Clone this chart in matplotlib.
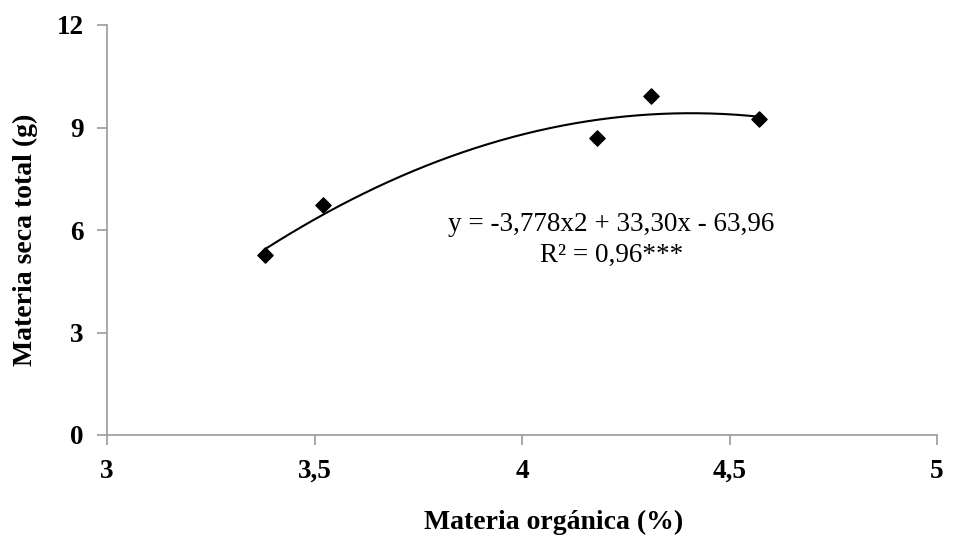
import numpy as np
import matplotlib
matplotlib.use("Agg")
import matplotlib.pyplot as plt

plt.rcParams["font.family"] = ["Liberation Serif", "DejaVu Serif"]

# Observed points
mo = [3.38, 3.52, 4.18, 4.31, 4.57]
mst = [5.28, 6.72, 8.70, 9.92, 9.25]

# Fitted quadratic (as printed on the chart)
coef = [-3.778, 33.30, -63.96]
eq_text = "y = -3,778x2 + 33,30x - 63,96\nR² = 0,96***"

xticks = [3, 3.5, 4, 4.5, 5]
xtick_labels = ["3", "3,5", "4", "4,5", "5"]
yticks = [0, 3, 6, 9, 12]

fig = plt.figure(figsize=(9.56, 5.43), dpi=100)
ax = fig.add_axes([107 / 956, 1 - 435 / 543, (937 - 107) / 956, (435 - 25) / 543])

xs = np.linspace(min(mo), max(mo), 200)
ax.plot(xs, np.polyval(coef, xs), color="black", lw=1.5)
ax.scatter(mo, mst, marker="D", s=60, color="black", zorder=3)

ax.text(4.215, 5.72, eq_text, ha="center", va="center", fontsize=19.5,
        linespacing=1.3)

ax.set_xlim(3, 5)
ax.set_ylim(0, 12)
ax.set_xticks(xticks)
ax.set_xticklabels(xtick_labels)
ax.set_yticks(yticks)

for s in ["top", "right"]:
    ax.spines[s].set_visible(False)
for s in ["left", "bottom"]:
    ax.spines[s].set_color("#999999")
    ax.spines[s].set_linewidth(1.2)
ax.tick_params(direction="out", length=7, width=1.2, color="#999999",
               labelsize=19.5, pad=10)
for lab in ax.get_xticklabels() + ax.get_yticklabels():
    lab.set_fontweight("bold")

ax.set_xlabel("Materia orgánica (%)", fontsize=20, fontweight="bold")
ax.set_ylabel("Materia seca total (g)", fontsize=20, fontweight="bold")
# labels in the original sit off-centre
ax.xaxis.set_label_coords(0.5386, -0.182)
ax.yaxis.set_label_coords(-0.083, 0.4756)

fig.savefig("out.png", dpi=100)
